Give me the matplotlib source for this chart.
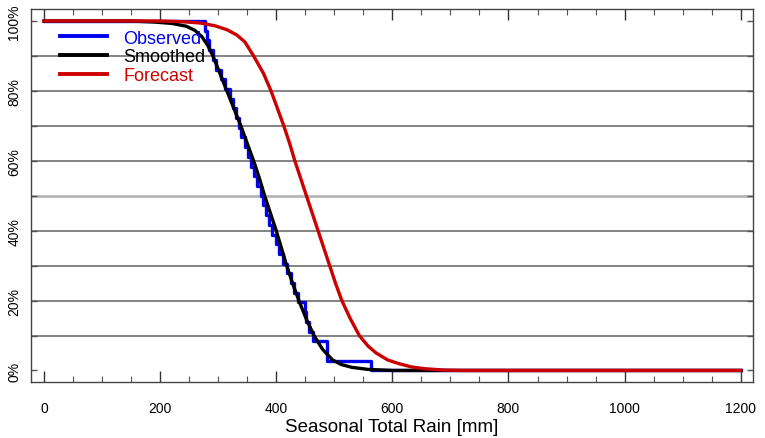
import matplotlib
matplotlib.use("Agg")
import matplotlib.pyplot as plt
import numpy as np

plt.rcParams["font.family"] = ["Liberation Sans", "DejaVu Sans"]

# observed seasonal totals (mm), sorted
observed = [277, 280, 284, 291, 297, 305, 312, 320, 326, 331, 336, 340,
            346, 352, 357, 362, 367, 373, 378, 383, 388, 393, 400, 405,
            411, 418, 425, 430, 437, 449, 452, 456, 463, 487, 487, 563]

# smoothed exceedance curve (mm, %)
smooth_x = [0, 150, 190, 220, 245, 260, 272, 282, 291, 303, 315, 327, 339,
            350, 361, 371, 380, 390, 400, 409, 418, 428, 439, 451, 465, 480,
            497, 512, 530, 558, 600, 1200]
smooth_y = [100, 100, 99.7, 99.3, 98.5, 97.3, 95.5, 93, 90, 85, 80, 75, 70,
            65, 60, 55, 50, 45, 40, 35, 30, 25, 20, 15, 10, 6,
            3, 1.7, 0.9, 0.3, 0, 0]

# forecast exceedance curve (mm, %)
fc_x = [0, 200, 240, 270, 295, 315, 332, 346, 361, 378, 391, 402, 413, 423,
        432, 442, 452, 462, 472, 482, 492, 502, 513, 527, 543, 558, 572,
        592, 610, 633, 655, 690, 720, 1200]
fc_y = [100, 100, 99.8, 99.4, 98.6, 97.5, 96, 94, 90, 85, 80, 75, 70, 65,
        60, 55, 50, 45, 40, 35, 30, 25, 20, 15, 10, 7, 5,
        3, 2, 1, 0.5, 0.1, 0, 0]

grid_levels = [10, 20, 30, 40, 60, 70, 80, 90]
mid_level = 50
ytick_vals = [0, 20, 40, 60, 80, 100]
ytick_labels = ["0%", "20%", "40%", "60%", "80%", "100%"]
xtick_vals = [0, 200, 400, 600, 800, 1000, 1200]

n = len(observed)
obs_levels = [100 * (n - i) / n for i in range(1, n + 1)]
step_x = [0] + observed + [1200]
step_y = [100] + obs_levels + [0]

fig = plt.figure(figsize=(7.65, 4.39), dpi=100)
ax = fig.add_axes([0.0405, 0.1276, 0.9435, 0.8494])

for lv in grid_levels:
    ax.axhline(lv, color="#7a7a7a", lw=1.3, zorder=1)
ax.axhline(mid_level, color="#b5b5b5", lw=2.0, zorder=1)

ax.step(step_x, step_y, where="post", color="#0000ee", lw=2.4, label="Observed", zorder=2)
ax.plot(smooth_x, smooth_y, color="black", lw=2.4, label="Smoothed", zorder=3)
ax.plot(fc_x, fc_y, color="#cc0000", lw=2.4, label="Forecast", zorder=4)

ax.set_xlim(-22.4, 1220.7)
ax.set_ylim(-3.3, 103.4)

ax.set_xticks(xtick_vals)
ax.set_xticks(np.arange(0, 1201, 50), minor=True)
ax.set_yticks(ytick_vals)
ax.set_yticklabels(ytick_labels, rotation=90, va="center")
ax.set_yticks(np.arange(0, 101, 10), minor=True)

ax.tick_params(axis="x", which="major", direction="in", length=8, width=1,
               top=True, bottom=True, labelsize=10, pad=14, color="#333333")
ax.tick_params(axis="x", which="minor", direction="in", length=4.5, width=0.8,
               top=True, bottom=True, color="#555555")
ax.tick_params(axis="y", which="both", direction="in", length=4, width=1,
               left=True, right=True, labelsize=10, pad=7, color="#555555")

for s in ax.spines.values():
    s.set_color("#444444")
    s.set_linewidth(1)

ax.set_xlabel("Seasonal Total Rain [mm]", fontsize=13.5, labelpad=2)

leg = ax.legend(loc="upper left", bbox_to_anchor=(0.04, 0.945), frameon=False,
                fontsize=13, handlelength=2.6, handletextpad=0.9,
                labelspacing=0.1, borderpad=0, borderaxespad=0)
for txt, ln in zip(leg.get_texts(), leg.get_lines()):
    txt.set_color(ln.get_color())
    ln.set_linewidth(2.8)

fig.savefig("out.png", dpi=100)
